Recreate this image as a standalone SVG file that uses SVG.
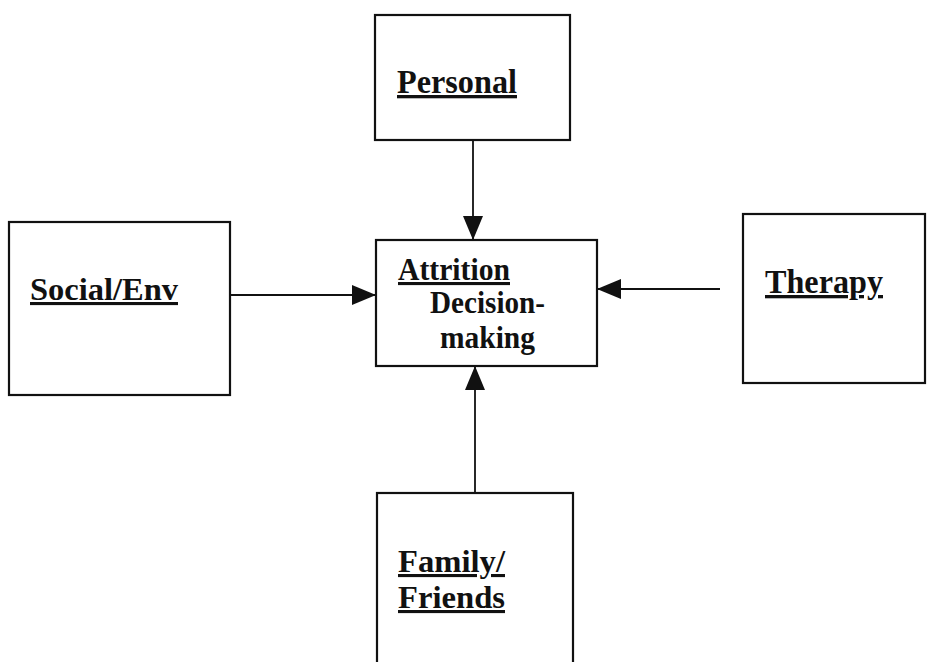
<svg xmlns="http://www.w3.org/2000/svg" width="928" height="662" viewBox="0 0 928 662">
<style>
.box{fill:#fff;stroke:#111;stroke-width:2.2}
.lbl{font-family:"Liberation Serif","Times New Roman",serif;font-weight:bold;font-size:31px;fill:#111}
.big{font-size:33px}
.u{text-decoration:underline}
.conn{stroke:#111;stroke-width:1.8;fill:none}
</style>
<defs>
<marker id="ah" markerUnits="userSpaceOnUse" markerWidth="24" markerHeight="20" refX="24" refY="10" orient="auto">
<path d="M0,0 L24,10 L0,20 Z" fill="#111"/>
</marker>
</defs>
<rect width="928" height="662" fill="#fff"/>
<g id="connectors">
<line class="conn" x1="473" y1="140" x2="473" y2="240" marker-end="url(#ah)"/>
<line class="conn" x1="230" y1="295" x2="376" y2="295" marker-end="url(#ah)"/>
<line class="conn" x1="720" y1="289" x2="597" y2="289" marker-end="url(#ah)"/>
<line class="conn" x1="475" y1="493" x2="475" y2="366" marker-end="url(#ah)"/>
</g>
<g id="personal">
<rect class="box" x="375" y="15" width="195" height="125"/>
<text class="lbl big u" x="397" y="93" textLength="120" lengthAdjust="spacingAndGlyphs">Personal</text>
</g>
<g id="attrition">
<rect class="box" x="376" y="240" width="221" height="126"/>
<text class="lbl u" x="398" y="280" textLength="112" lengthAdjust="spacingAndGlyphs">Attrition</text>
<text class="lbl" x="430" y="313" textLength="115" lengthAdjust="spacingAndGlyphs">Decision-</text>
<text class="lbl" x="440" y="348" textLength="95" lengthAdjust="spacingAndGlyphs">making</text>
</g>
<g id="social">
<rect class="box" x="9" y="222" width="221" height="173"/>
<text class="lbl u" x="30" y="300" textLength="148" lengthAdjust="spacingAndGlyphs">Social/Env</text>
</g>
<g id="therapy">
<rect class="box" x="743" y="214" width="182" height="169"/>
<text class="lbl big u" x="765" y="293" textLength="118" lengthAdjust="spacingAndGlyphs">Therapy</text>
</g>
<g id="family">
<rect class="box" x="377" y="493" width="196" height="180"/>
<text class="lbl u" x="398" y="572" textLength="107" lengthAdjust="spacingAndGlyphs">Family/</text>
<text class="lbl u" x="398" y="608" textLength="107" lengthAdjust="spacingAndGlyphs">Friends</text>
</g>
</svg>
